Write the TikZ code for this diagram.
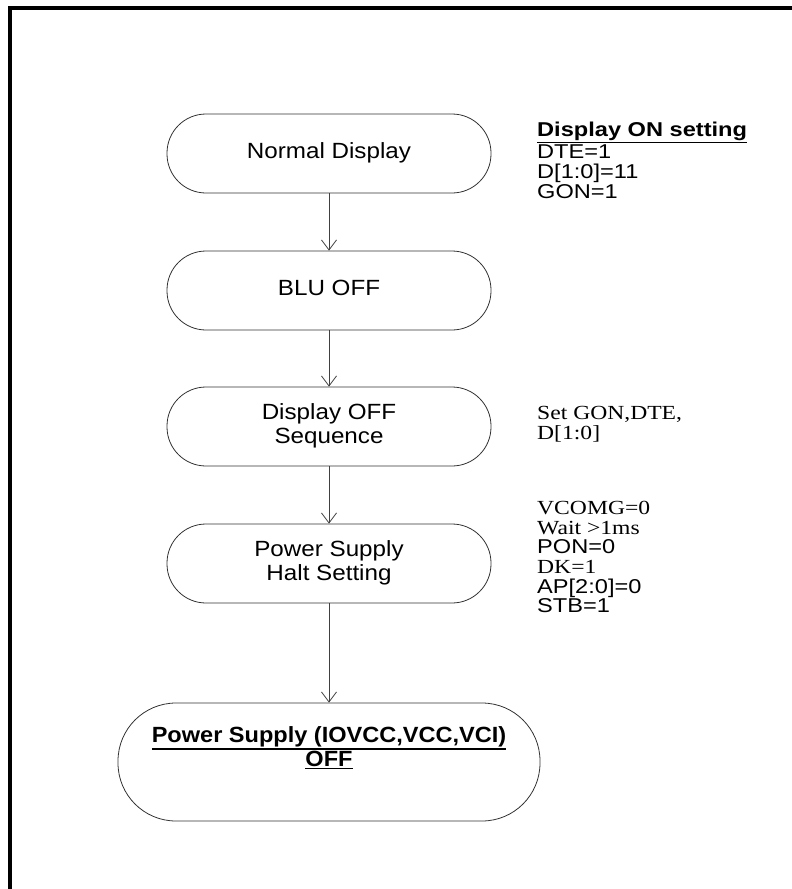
\documentclass[tikz,border=0pt]{standalone}
\usepackage{fontspec}
\setmainfont{Liberation Serif}
\newfontfamily\arial{Liberation Sans}
\newcommand{\uln}[1]{\leavevmode\vtop{\hbox{#1}\kern1pt\hrule height 1.3pt}}
\usetikzlibrary{arrows.meta}
\tikzset{
  flow/.style={draw=black!80, line width=0.8pt, rounded corners=39pt,
    minimum width=324pt, minimum height=79pt, align=center, inner sep=0pt,
    font=\arial\fontsize{22}{24}\selectfont},
  conn/.style={draw=black!75, line width=0.8pt,
    -{Straight Barb[length=10pt,width=15pt,line width=0.8pt]}},
  note/.style={anchor=base west, inner sep=0pt, font=\fontsize{20}{20}\selectfont},
  anote/.style={note, font=\arial\fontsize{20}{20}\selectfont},
}
\newcommand{\sx}[1]{\scalebox{1.18}[1]{#1}}
\newcommand{\bx}[1]{\scalebox{1.1}[1]{\begin{tabular}{@{}c@{}}#1\end{tabular}}}
\begin{document}
\begin{tikzpicture}[x=1pt,y=-1pt]
\useasboundingbox (0,0) rectangle (792,889);
\draw[line width=4pt, line join=miter] (10,889) -- (10,8) -- (792,8);

\node[flow] (n1) at (329,153.5) {\bx{Normal Display}};
\node[flow] (n2) at (329,290.5) {\bx{BLU OFF}};
\node[flow] (n3) at (329,426.5) {\bx{Display OFF\\Sequence}};
\node[flow] (n4) at (329,563.5) {\bx{Power Supply\\Halt Setting}};
\node[flow, minimum width=422pt, minimum height=118pt, rounded corners=58pt] (n5) at (329,762) {};
\node[inner sep=0pt, font=\arial\bfseries\fontsize{22}{24}\selectfont] (n5t) at (329,750)
  {\scalebox{1.07}[1]{\begin{tabular}{@{}c@{}}\uln{Power Supply (IOVCC,VCC,VCI)}\\\uln{OFF}\end{tabular}}};

\draw[conn] (n1) -- (n2);
\draw[conn] (n2) -- (n3);
\draw[conn] (n3) -- (n4);
\draw[conn] (n4) -- (n5);

\node[anote, font=\arial\bfseries\fontsize{20}{20}\selectfont] (a1) at (537,136.5) {\sx{\uln{Display ON setting}}};
\node[anote] (a2) at (537,158) {\sx{DTE=1}};
\node[anote] (a3) at (537,178) {\sx{D[1:0]=11}};
\node[anote] (a4) at (537,198) {\sx{GON=1}};

\node[note] (b1) at (537,419) {\sx{Set GON,DTE,}};
\node[note] (b2) at (537,439) {\sx{D[1:0]}};

\node[note] (c1) at (537,514) {\sx{VCOMG=0}};
\node[note] (c2) at (537,534) {\sx{Wait >1ms}};
\node[anote] (c3) at (537,553) {\sx{PON=0}};
\node[note] (c4) at (537,573) {\sx{DK=1}};
\node[anote] (c5) at (537,593) {\sx{AP[2:0]=0}};
\node[anote] (c6) at (537,612) {\sx{STB=1}};
\end{tikzpicture}
\end{document}
